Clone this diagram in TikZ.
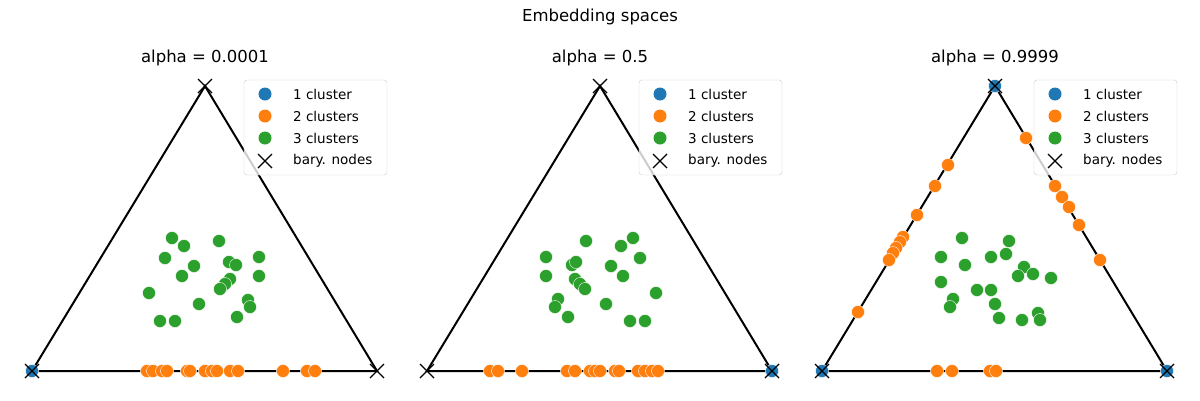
\documentclass[tikz,border=0pt]{standalone}
\usepackage{fontspec}
\setmainfont{DejaVu Sans}
\usetikzlibrary{calc}
\definecolor{cA}{HTML}{1F77B4}
\definecolor{cB}{HTML}{FF7F0E}
\definecolor{cC}{HTML}{2CA02C}
\newcommand{\pnt}[3]{\fill[pt=#1] (#2,#3) circle (6.5);}
\begin{document}
\begin{tikzpicture}[x=1pt,y=-1pt,
  pt/.style={fill=#1,draw=white,line width=0.4pt},
  bx/.style={line width=1.3pt,black},
  tri/.style={line width=2pt,black,line join=miter},
  leg/.style={anchor=west,font=\fontsize{13.5}{14}\selectfont,inner sep=0pt},
  ttl/.style={font=\fontsize{16.5}{18}\selectfont,inner sep=0pt}]
\useasboundingbox (0,0) rectangle (1200,400);
\newcommand{\Panel}[2]{%
 \begin{scope}[xshift=#1]
 \coordinate (#2a) at (32,371); \coordinate (#2b) at (377,371); \coordinate (#2c) at (205,86);
 \end{scope}}
\newcommand{\Legend}[1]{%
 \begin{scope}[xshift=#1]
 \draw[rounded corners=3pt,draw=black!20,fill=white,fill opacity=0.8] (244,80) rectangle (387,175);
 \fill[cA] (265,94) circle (6.5); \node[leg] at (293,94) {1 cluster};
 \fill[cB] (265,116) circle (6.5); \node[leg] at (293,116) {2 clusters};
 \fill[cC] (265,138) circle (6.5); \node[leg] at (293,138) {3 clusters};
 \draw[bx] (258,154)--(272,168) (258,168)--(272,154); \node[leg] at (293,161) {bary. nodes};
 \end{scope}}
\node[ttl] (main) at (600,17) {Embedding spaces};
% ---- panel 1
\node[ttl] (t1) at (205,58) {alpha = 0.0001};
\Panel{0}{p}
\draw[tri] (pa)--(pb)--(pc)--cycle;
\foreach \x/\y in {172/238,184/246,219/241,165/258,259/257,194/266,229/262,236/265,182/276,259/276,230/279,225/284,220/289,149/293,199/304,248/300,250/307,237/317,160/321,175/321}{\pnt{cC}{\x}{\y}}
\foreach \x in {147,153,162,167,187,190,205,212,217,230,238,283,307,315}{\pnt{cB}{\x}{371}}
\pnt{cA}{32}{371}
\foreach \v in {pa,pb,pc}{\draw[bx] ($(\v)+(-7,-7)$) -- ($(\v)+(7,7)$) ($(\v)+(-7,7)$) -- ($(\v)+(7,-7)$);}
\Legend{0}
% ---- panel 2
\node[ttl] (t2) at (600,58) {alpha = 0.5};
\Panel{395}{q}
\draw[tri] (qa)--(qb)--(qc)--cycle;
\foreach \x/\y in {586/241,633/238,621/246,546/257,640/258,572/265,576/262,611/266,546/276,623/276,575/279,580/284,585/289,656/293,558/299,555/307,606/304,568/317,630/321,645/321}{\pnt{cC}{\x}{\y}}
\foreach \x in {490,498,522,567,575,590,595,600,615,619,638,645,652,658}{\pnt{cB}{\x}{371}}
\pnt{cA}{772}{371}
\foreach \v in {qa,qb,qc}{\draw[bx] ($(\v)+(-7,-7)$) -- ($(\v)+(7,7)$) ($(\v)+(-7,7)$) -- ($(\v)+(7,-7)$);}
\Legend{395}
% ---- panel 3
\node[ttl] (t3) at (995,58) {alpha = 0.9999};
\Panel{790}{r}
\draw[tri] (ra)--(rb)--(rc)--cycle;
\foreach \x/\y in {962/238,1009/241,941/257,991/257,1006/254,965/265,1024/267,1018/276,1033/274,1051/278,941/282,977/290,991/290,953/299,950/307,995/304,999/318,1022/320,1038/313,1040/320}{\pnt{cC}{\x}{\y}}
\foreach \x/\y in {948/165,935/186,917/215,903/237,900/242,896/248,893/253,889/260,858/312,1026/138,1055/186,1062/197,1069/207,1079/225,1100/260,937/371,952/371,990/371,996/371}{\pnt{cB}{\x}{\y}}
\pnt{cA}{822}{371}\pnt{cA}{1167}{371}\pnt{cA}{995}{86}
\foreach \v in {ra,rb,rc}{\draw[bx] ($(\v)+(-7,-7)$) -- ($(\v)+(7,7)$) ($(\v)+(-7,7)$) -- ($(\v)+(7,-7)$);}
\Legend{790}
\end{tikzpicture}
\end{document}
